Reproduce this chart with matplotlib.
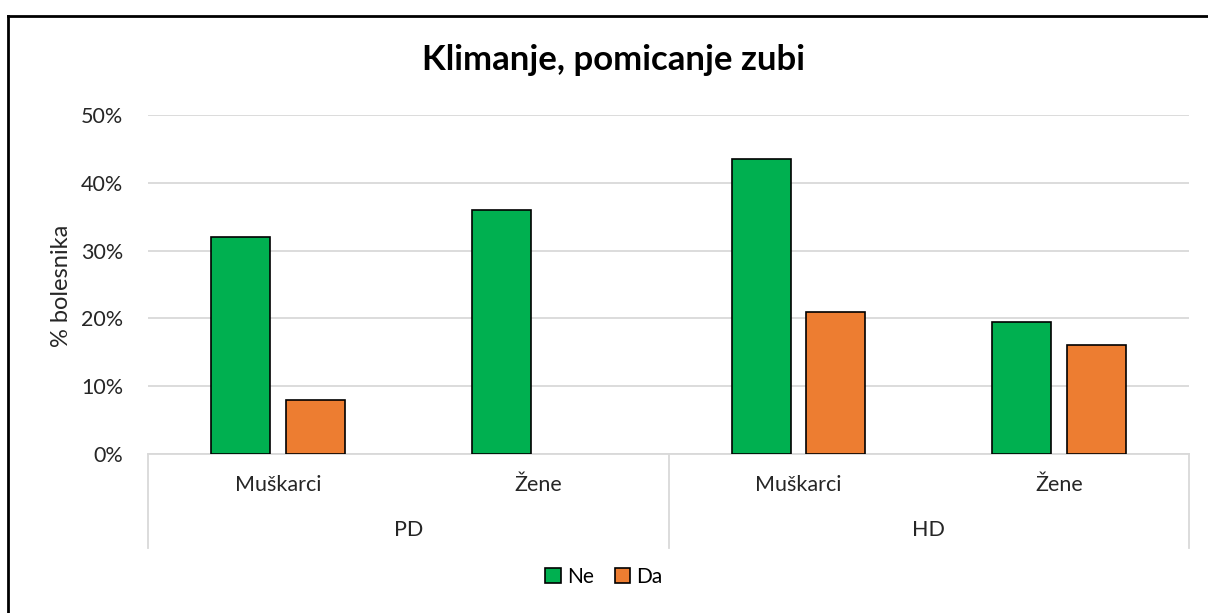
"""
Klimanje, pomicanje zubi - grouped bars by group (PD/HD) and sex.
"""

import matplotlib.pyplot as plt
from matplotlib.lines import Line2D

plt.rcParams['font.family'] = ['Lato', 'DejaVu Sans']

groups = ['PD', 'HD']
sexes = ['Muškarci', 'Žene', 'Muškarci', 'Žene']
ne_vals = [0.32, 0.36, 0.435, 0.194]
da_vals = [0.08, 0.0, 0.21, 0.161]
series_labels = ['Ne', 'Da']
yticks = [0, 0.1, 0.2, 0.3, 0.4, 0.5]

GREEN = '#00B050'
ORANGE = '#ED7D31'
GRID = '#D9D9D9'
TXT = '#262626'


def main():
    fig = plt.figure(figsize=(12.08, 6.13), dpi=100)
    ax = fig.add_axes([148 / 1208, 159 / 613, 1041 / 1208, 339 / 613])

    x = list(range(len(sexes)))
    width = 0.227
    off = 0.143
    bars_ne = ax.bar([i - off for i in x], ne_vals, width, color=GREEN,
                     edgecolor='black', linewidth=1.2, label=series_labels[0], zorder=3)
    bars_da = ax.bar([i + off for i in x], da_vals, width, color=ORANGE,
                     edgecolor='black', linewidth=1.2, label=series_labels[1], zorder=3)
    # Excel draws nothing for a zero-height bar
    for b in list(bars_ne) + list(bars_da):
        if b.get_height() == 0:
            b.set_visible(False)

    ax.set_xlim(-0.5, len(sexes) - 0.5)
    ax.set_ylim(0, 0.5)
    ax.set_yticks(yticks)
    ax.set_yticklabels(['%d%%' % round(v * 100) for v in yticks])
    ax.tick_params(axis='y', length=0, pad=18, labelsize=15.5, colors=TXT)
    ax.set_xticks([])
    ax.grid(True, axis='y', color=GRID, linewidth=1.3, zorder=0)
    for side in ('left', 'right', 'top'):
        ax.spines[side].set_visible(False)
    ax.spines['bottom'].set_color(GRID)
    ax.spines['bottom'].set_linewidth(1.3)

    # multi-level category axis
    tr = ax.get_xaxis_transform()
    for i, name in enumerate(sexes):
        ax.text(i, -0.091, name, transform=tr, ha='center', va='center',
                fontsize=15.5, color=TXT)
    for g, name in enumerate(groups):
        ax.text(g * 2 + 0.5, -0.224, name, transform=tr, ha='center',
                va='center', fontsize=15.5, color=TXT)
    for xb in (-0.5, 1.5, 3.5):
        ax.add_line(Line2D([xb, xb], [0, -0.277], transform=tr, color=GRID,
                           linewidth=1.3, clip_on=False))

    fig.text(62 / 1208, 1 - 286 / 613, '% bolesnika', rotation=90, ha='center',
             va='center', fontsize=17, color=TXT)
    fig.text(0.508, 1 - 60 / 613, 'Klimanje, pomicanje zubi', ha='center',
             va='center', fontsize=25, fontweight='bold')

    fig.legend(loc='center', bbox_to_anchor=(0.5, 1 - 577 / 613), ncol=2,
               frameon=False, fontsize=15, handlelength=0.75, handleheight=0.75,
               handletextpad=0.3, columnspacing=1.0)

    # outer chart border (top and left visible)
    fig.add_artist(Line2D([8 / 1208, 8 / 1208], [0, 1 - 16 / 613],
                          transform=fig.transFigure, color='black', linewidth=2))
    fig.add_artist(Line2D([8 / 1208, 1], [1 - 16 / 613, 1 - 16 / 613],
                          transform=fig.transFigure, color='black', linewidth=2))

    fig.savefig('out.png', dpi=100, facecolor='white')


if __name__ == '__main__':
    main()
